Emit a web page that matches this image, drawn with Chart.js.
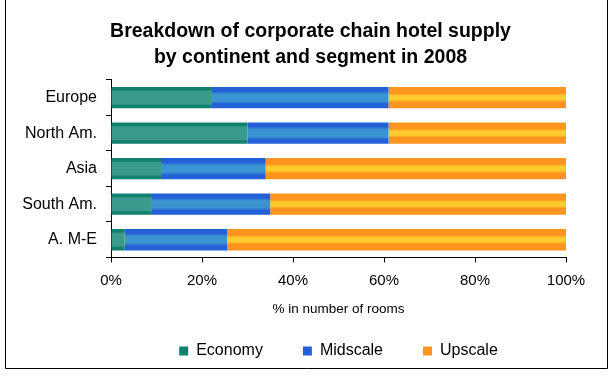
<!DOCTYPE html>
<html>
<head>
<meta charset="utf-8">
<script src="https://cdn.jsdelivr.net/npm/chart.js@4"></script>
<style>
  body { margin: 0; background: #fff; }
  canvas { display: block; }
</style>
</head>
<body>
<canvas id="hotelChart" width="611" height="376"></canvas>
<script>
const categories = ['Europe', 'North Am.', 'Asia', 'South Am.', 'A. M-E'];
const economy = [22, 30, 11, 9, 3];
const midscale = [39, 31, 23, 26, 22.5];
const upscale = [39, 39, 66, 65, 74.5];
const xTicks = [0, 20, 40, 60, 80, 100];

const FONT = "'Liberation Sans', Arial, sans-serif";

// vertical gradient per bar (dark edges, light band in the middle)
function barFill(stops, solid) {
  return (ctx) => {
    if (ctx.type !== 'data') return solid;
    const chart = ctx.chart;
    const y = chart.scales.y;
    if (!y || !chart.chartArea) return solid;
    const center = y.getPixelForValue(ctx.dataIndex);
    const half = (y.height / categories.length) * 0.6 / 2;
    const g = chart.ctx.createLinearGradient(0, center - half, 0, center + half);
    stops.forEach(([p, c]) => g.addColorStop(p, c));
    return g;
  };
}

const frame = {
  id: 'frame',
  afterDraw(chart) {
    const c = chart.ctx;
    c.save();
    c.strokeStyle = '#000';
    c.lineWidth = 1;
    c.beginPath();
    c.moveTo(5.5, 0);
    c.lineTo(5.5, 368.5);
    c.lineTo(607.5, 368.5);
    c.lineTo(607.5, 0);
    c.stroke();
    c.restore();
  }
};

new Chart(document.getElementById('hotelChart'), {
  type: 'bar',
  data: {
    labels: categories,
    datasets: [
      {
        label: 'Economy',
        data: economy,
        backgroundColor: barFill([[0, '#10806f'], [0.14, '#10806f'], [0.2, '#3a9a8c'], [0.8, '#3a9a8c'], [0.86, '#10806f'], [1, '#10806f']], '#3a9a8c')
      },
      {
        label: 'Midscale',
        data: midscale,
        backgroundColor: barFill([[0, '#2461d8'], [0.2, '#2461d8'], [0.34, '#3a94d2'], [0.66, '#3a94d2'], [0.8, '#2461d8'], [1, '#2461d8']], '#2e72d4')
      },
      {
        label: 'Upscale',
        data: upscale,
        backgroundColor: barFill([[0, '#ff941e'], [0.3, '#ff941e'], [0.4, '#ffcb2f'], [0.6, '#ffcb2f'], [0.7, '#ff941e'], [1, '#ff941e']], '#ffa826')
      }
    ]
  },
  options: {
    indexAxis: 'y',
    responsive: false,
    animation: false,
    layout: { padding: { left: 10, right: 0, top: 0, bottom: 7 } },
    datasets: { bar: { barPercentage: 0.6, categoryPercentage: 1 } },
    plugins: {
      title: {
        display: true,
        text: ['Breakdown of corporate chain hotel supply', 'by continent and segment in 2008'],
        color: '#000',
        font: { family: FONT, size: 19.5, weight: 'bold', lineHeight: 1.33 },
        padding: { top: 19, bottom: 9 }
      },
      legend: {
        position: 'bottom',
        fullSize: false,
        labels: {
          color: '#000',
          boxWidth: 9,
          boxHeight: 9,
          padding: 40,
          font: { family: FONT, size: 16 }
        }
      },
      tooltip: { enabled: false }
    },
    scales: {
      x: {
        stacked: true,
        min: 0,
        max: 100,
        afterBuildTicks: (s) => { s.ticks = xTicks.map(v => ({ value: v })); },
        afterFit: (s) => { s.height = 45.5; },
        ticks: {
          color: '#000',
          padding: 9,
          font: { family: FONT, size: 15 },
          callback: (v) => v + '%'
        },
        grid: { drawOnChartArea: false, drawTicks: true, tickLength: 5, color: '#000' },
        border: { display: true, color: '#000' },
        title: {
          display: true,
          text: '% in number of rooms',
          color: '#000',
          font: { family: FONT, size: 13.5 },
          padding: { top: 0, bottom: -14 }
        }
      },
      y: {
        stacked: true,
        afterFit: (s) => { s.width = 101; },
        ticks: {
          color: '#000',
          padding: 9,
          font: { family: FONT, size: 16 }
        },
        grid: { drawOnChartArea: false, drawTicks: true, tickLength: 5, color: '#000', offset: true },
        border: { display: true, color: '#000' }
      },
      // empty right-hand axis, only keeps the white margin right of the bars
      yRight: {
        type: 'linear',
        position: 'right',
        afterFit: (s) => { s.width = 45; },
        ticks: { display: false },
        grid: { display: false },
        border: { display: false }
      }
    }
  },
  plugins: [frame]
});
</script>
</body>
</html>
